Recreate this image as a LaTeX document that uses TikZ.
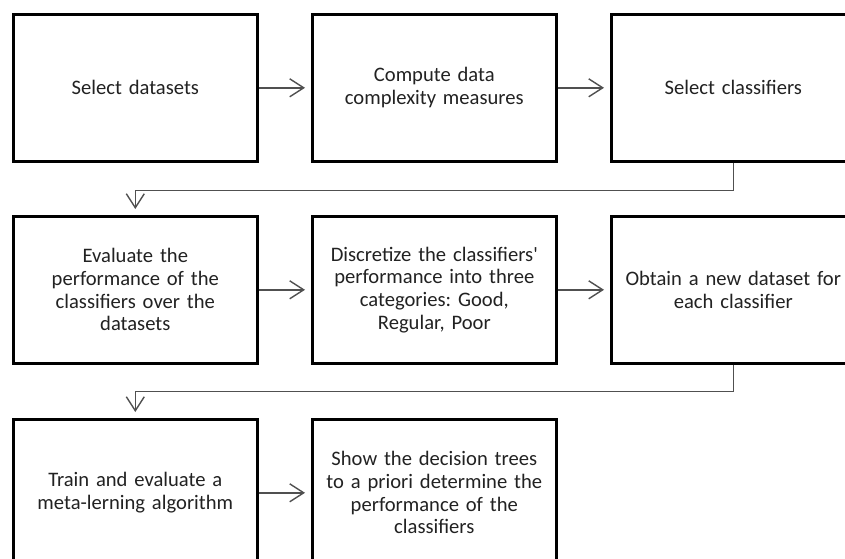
\documentclass[tikz,border=0pt]{standalone}
\usepackage{fontspec}
\setmainfont{Carlito}
\usetikzlibrary{arrows.meta}
\definecolor{txt}{HTML}{222222}
\definecolor{conn}{HTML}{505050}
\tikzset{
  stepbox/.style={draw=black, line width=2.6pt, minimum width=244pt, minimum height=147pt,
    inner sep=0pt, anchor=north west, align=center, text width=230pt,
    font=\fontsize{20.6pt}{22.6pt}\selectfont\frenchspacing, text=txt},
  flow/.style={draw=conn, line width=1.4pt, -{Straight Barb[length=14pt,width=18pt,line width=1.4pt]}, shorten >=6pt}
}
\begin{document}
\begin{tikzpicture}[x=1pt,y=-1pt]
\useasboundingbox (0,0) rectangle (845,558);
\clip (0,0) rectangle (845,558);
\fill[white] (0,0) rectangle (845,558);
\node[stepbox] (a) at (12,13) {Select datasets};
\node[stepbox] (b) at (311,13) {Compute data\\complexity measures};
\node[stepbox] (c) at (610,13) {Select classifiers};
\node[stepbox] (d) at (12,215) {Evaluate the\\performance of the\\classifiers over the\\datasets};
\node[stepbox] (e) at (311,215) {Discretize the classifiers\textquotesingle\\performance into three\\categories: Good,\\Regular, Poor};
\node[stepbox] (f) at (610,215) {Obtain a new dataset for\\each classifier};
\node[stepbox] (g) at (12,418) {Train and evaluate a\\meta-lerning algorithm};
\node[stepbox] (h) at (311,418) {Show the decision trees\\to a priori determine the\\performance of the\\classifiers};
\draw[flow] (a) -- (b);
\draw[flow] (b) -- (c);
\draw[flow] (d) -- (e);
\draw[flow] (e) -- (f);
\draw[flow] (g) -- (h);
\draw[flow] (c.south) -- ++(0,28) -| (d.north);
\draw[flow] (f.south) -- ++(0,27) -| (g.north);
\end{tikzpicture}
\end{document}
